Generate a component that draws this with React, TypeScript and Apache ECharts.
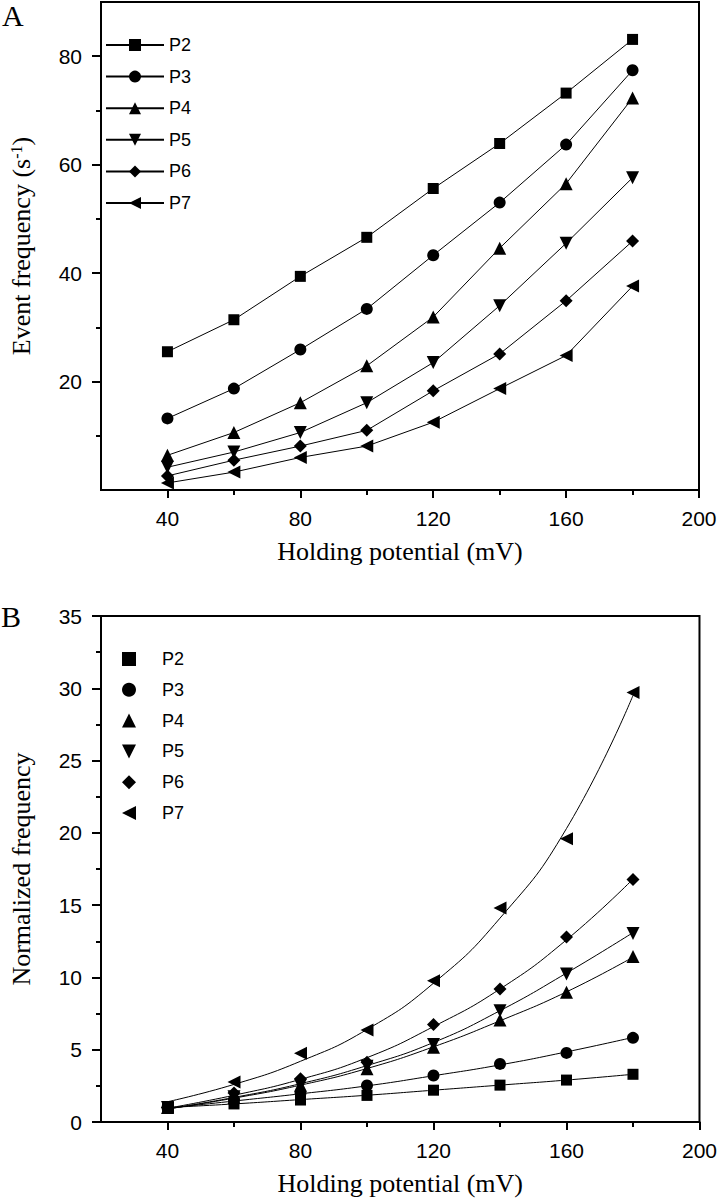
import React, { useEffect, useRef } from 'react';
import * as echarts from 'echarts';

const xValues = [40, 60, 80, 100, 120, 140, 160, 180];
const seriesNames = ['P2', 'P3', 'P4', 'P5', 'P6', 'P7'];
const xMajorTicks = [40, 80, 120, 160, 200];
const xMinorTicks = [60, 100, 140, 180];
const yTopMajorTicks = [20, 40, 60, 80];
const yTopMinorTicks = [10, 30, 50, 70];

// Panel A: event frequency (s^-1)
const eventP2 = [25.5, 31.4, 39.4, 46.6, 55.6, 63.9, 73.2, 83.1];
const eventP3 = [13.2, 18.7, 25.9, 33.4, 43.3, 53.0, 63.7, 77.4];
const eventP4 = [6.4, 10.6, 16.1, 22.9, 31.9, 44.6, 56.5, 72.3];
const eventP5 = [4.2, 7.0, 10.6, 16.1, 23.5, 34.0, 45.5, 57.6];
const eventP6 = [2.6, 5.5, 8.1, 11.0, 18.3, 25.1, 34.9, 45.9];
const eventP7 = [1.3, 3.3, 6.0, 8.1, 12.5, 18.7, 24.8, 37.6];

// Panel B: normalized frequency (markers)
const normP2 = [1.0, 1.25, 1.52, 1.84, 2.2, 2.55, 2.9, 3.3];
const normP3 = [1.0, 1.55, 2.0, 2.53, 3.22, 4.02, 4.78, 5.82];
const normP4 = [1.0, 1.7, 2.55, 3.68, 5.17, 7.06, 8.97, 11.45];
const normP5 = [1.0, 1.75, 2.55, 3.85, 5.36, 7.7, 10.23, 13.03];
const normP6 = [1.0, 2.0, 3.0, 4.14, 6.74, 9.2, 12.8, 16.78];
const normP7 = [1.0, 2.76, 4.76, 6.37, 9.77, 14.8, 19.6, 29.7];

// Panel B: fitted curves
const fitP2 = [1.0, 1.25, 1.55, 1.85, 2.2, 2.55, 2.9, 3.3];
const fitP3 = [0.95, 1.45, 1.95, 2.5, 3.2, 3.95, 4.85, 5.85];
const fitP4 = [0.9, 1.65, 2.55, 3.7, 5.2, 7.0, 9.0, 11.4];
const fitP5 = [0.9, 1.7, 2.65, 3.9, 5.5, 7.7, 10.3, 13.1];
const fitP6 = [0.95, 1.85, 2.95, 4.45, 6.6, 9.2, 12.6, 16.8];
const fitP7 = [1.4, 2.6, 4.2, 6.4, 9.6, 14.1, 20.3, 29.5];

const eventData = [eventP2, eventP3, eventP4, eventP5, eventP6, eventP7];
const normData = [normP2, normP3, normP4, normP5, normP6, normP7];
const fitData = [fitP2, fitP3, fitP4, fitP5, fitP6, fitP7];

const symbols = [
  'rect',
  'circle',
  'triangle',
  'path://M0,0L10,0L5,10Z',
  'diamond',
  'path://M10,0L10,10L0,5Z',
];
const symbolSizes = [11, 12, 13, 13, 13, 13];

const SANS = 'Liberation Sans, Arial, sans-serif';
const SERIF = 'Liberation Serif, Times New Roman, serif';

function pairs(vals: number[]) {
  return xValues.map((x, i) => [x, vals[i]]);
}

export default function App() {
  const ref = useRef<HTMLDivElement>(null);
  useEffect(() => {
    document.body.style.margin = '0';
    if (!ref.current) return;
    const chart = echarts.init(ref.current, null, { renderer: 'svg' });

    const axisLine = { show: true, lineStyle: { color: '#000', width: 2 } };
    const tickLabel = { color: '#000', fontFamily: SANS, fontSize: 21 };
    const nameStyle = {
      color: '#000',
      fontFamily: SERIF,
      fontSize: 26,
      rich: {
        sup: { fontFamily: SERIF, fontSize: 16, color: '#000', verticalAlign: 'top' as const },
      },
    };

    const mainX = (gridIndex: number) => ({
      type: 'value',
      gridIndex,
      position: 'bottom',
      min: 20,
      max: 200,
      interval: 20,
      axisLine,
      splitLine: { show: false },
      axisTick: { show: true, inside: false, length: 8, lineStyle: { color: '#000', width: 2 }, customValues: xMajorTicks },
      axisLabel: { ...tickLabel, margin: 18, customValues: xMajorTicks },
      name: 'Holding potential (mV)',
      nameLocation: 'middle',
      nameGap: 48,
      nameTextStyle: nameStyle,
    });
    const minorX = (gridIndex: number) => ({
      type: 'value',
      gridIndex,
      position: 'bottom',
      min: 20,
      max: 200,
      interval: 20,
      axisLine: { show: false },
      splitLine: { show: false },
      axisTick: { show: true, inside: false, length: 5, lineStyle: { color: '#000', width: 2 }, customValues: xMinorTicks },
      axisLabel: { show: false },
    });

    const option: any = {
      animation: false,
      backgroundColor: '#fff',
      grid: [
        { left: 90, top: 2, width: 609, height: 488, show: true, borderColor: '#000', borderWidth: 2, backgroundColor: 'transparent' },
        { left: 90, top: 616, width: 611, height: 506, show: true, borderColor: '#000', borderWidth: 2, backgroundColor: 'transparent' },
      ],
      xAxis: [mainX(0), minorX(0), mainX(1), minorX(1)],
      yAxis: [
        {
          type: 'value',
          gridIndex: 0,
          position: 'left',
          min: 0,
          max: 90,
          interval: 10,
          axisLine,
          splitLine: { show: false },
          axisTick: { show: true, length: 9, lineStyle: { color: '#000', width: 2 }, customValues: yTopMajorTicks },
          axisLabel: { ...tickLabel, margin: 19, customValues: yTopMajorTicks },
          name: 'Event frequency (s{sup|-1})',
          nameLocation: 'middle',
          nameGap: 67,
          nameTextStyle: nameStyle,
        },
        {
          type: 'value',
          gridIndex: 0,
          position: 'left',
          min: 0,
          max: 90,
          interval: 10,
          axisLine: { show: false },
          splitLine: { show: false },
          axisTick: { show: true, length: 5, lineStyle: { color: '#000', width: 2 }, customValues: yTopMinorTicks },
          axisLabel: { show: false },
        },
        {
          type: 'value',
          gridIndex: 1,
          position: 'left',
          min: 0,
          max: 35,
          interval: 5,
          axisLine,
          splitLine: { show: false },
          axisTick: { show: true, length: 9, lineStyle: { color: '#000', width: 2 } },
          minorTick: { show: true, splitNumber: 2, length: 5, lineStyle: { color: '#000', width: 2 } },
          minorSplitLine: { show: false },
          axisLabel: { ...tickLabel, margin: 19 },
          name: 'Normalized frequency',
          nameLocation: 'middle',
          nameGap: 67,
          nameTextStyle: nameStyle,
        },
      ],
      legend: [
        {
          data: seriesNames,
          orient: 'vertical',
          left: 100,
          top: 31,
          itemWidth: 58,
          itemHeight: 15,
          itemGap: 13.6,
          textStyle: { color: '#000', fontFamily: SANS, fontSize: 18, lineHeight: 18 },
          selectedMode: false,
        },
        {
          data: seriesNames.map((n) => 'B-' + n),
          formatter: (name: string) => name.replace('B-', ''),
          orient: 'vertical',
          left: 117,
          top: 645,
          itemWidth: 14,
          itemHeight: 14,
          itemGap: 12.8,
          textStyle: { color: '#000', fontFamily: SANS, fontSize: 18, lineHeight: 18, padding: [0, 0, 0, 21] },
          selectedMode: false,
        },
      ],
      graphic: [
        { type: 'text', left: 2, top: 0, style: { text: 'A', font: '30px ' + SERIF, fill: '#000' } },
        { type: 'text', left: 1, top: 601, style: { text: 'B', font: '30px ' + SERIF, fill: '#000' } },
      ],
      series: [
        ...seriesNames.map((name, i) => ({
          name,
          type: 'line',
          xAxisIndex: 0,
          yAxisIndex: 0,
          data: pairs(eventData[i]),
          symbol: symbols[i],
          symbolSize: symbolSizes[i],
          showSymbol: true,
          lineStyle: { color: '#000', width: 1 },
          itemStyle: { color: '#000' },
          z: 3,
        })),
        ...seriesNames.map((name, i) => ({
          name: 'fit' + name,
          type: 'line',
          xAxisIndex: 2,
          yAxisIndex: 2,
          data: pairs(fitData[i]),
          smooth: true,
          showSymbol: false,
          symbol: 'none',
          lineStyle: { color: '#000', width: 1 },
          itemStyle: { color: '#000' },
          z: 2,
        })),
        ...seriesNames.map((name, i) => ({
          name: 'B-' + name,
          type: 'scatter',
          xAxisIndex: 2,
          yAxisIndex: 2,
          data: pairs(normData[i]),
          symbol: symbols[i],
          symbolSize: symbolSizes[i],
          itemStyle: { color: '#000', opacity: 1 },
          z: 4,
        })),
      ],
    };

    chart.setOption(option);
    return () => chart.dispose();
  }, []);

  return <div ref={ref} style={{ width: 720, height: 1199 }} />;
}
